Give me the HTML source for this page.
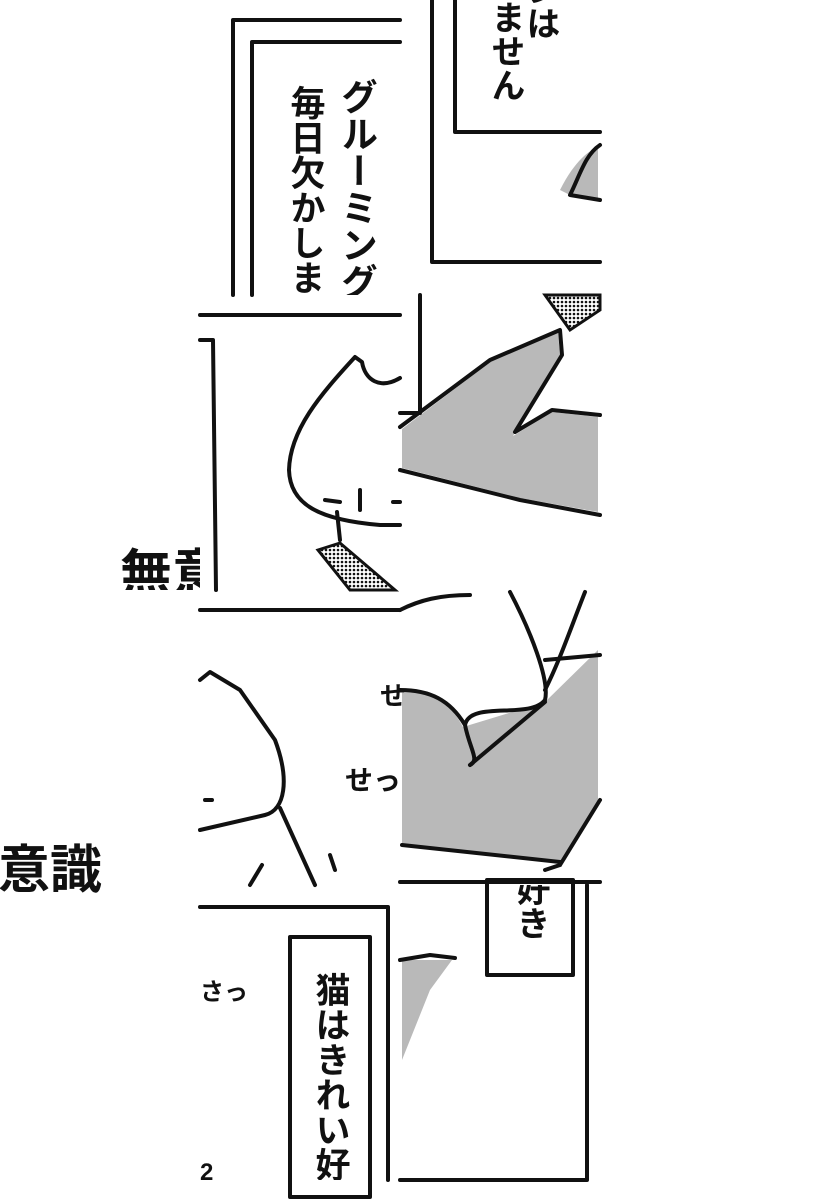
<!DOCTYPE html>
<html><head><meta charset="utf-8"><style>
html,body{margin:0;padding:0;background:#fff}
svg{display:block}
text{font-family:"Liberation Sans","Noto Sans CJK JP",sans-serif;font-weight:bold;fill:#111}
.v{writing-mode:vertical-rl}
</style></head><body>
<svg width="820" height="1200" viewBox="0 0 820 1200" xmlns="http://www.w3.org/2000/svg">
<defs>
<pattern id="dots" width="4" height="4" patternUnits="userSpaceOnUse"><rect width="4" height="4" fill="#fff"/><circle cx="2" cy="2" r="1.3" fill="#111"/></pattern>
<clipPath id="c1"><rect x="200" y="0" width="200" height="295"/></clipPath>
<clipPath id="c2"><rect x="400" y="0" width="200" height="295"/></clipPath>
<clipPath id="c7"><rect x="200" y="885" width="200" height="295"/></clipPath>
<clipPath id="c8"><rect x="400" y="885" width="200" height="295"/></clipPath>
<clipPath id="cm"><rect x="100" y="530" width="100" height="60"/></clipPath>
</defs>
<rect width="820" height="1200" fill="#fff"/>
<g fill="#b9b9b9">
<path d="M402 429 L490 362 L558 333 L560 355 L513 436 L552 412 L598 417 L598 512 L520 498 L402 468 Z"/>
<path d="M560 190 C575 160 590 150 598 147 L598 198 L572 196 Z"/>
<path d="M402 692 C432 692 450 702 463 727 L545 702 L598 650 L598 800 L560 862 L402 845 Z"/>
<path d="M402 960 L452 960 L430 990 L402 1060 Z"/>
</g>
<g fill="none" stroke="#111" stroke-width="4" stroke-linejoin="round" stroke-linecap="round">
<path d="M233 295 V20 H400"/>
<path d="M252 295 V42 H400"/>
<path d="M432 0 V262 H600"/>
<path d="M455 0 V132 H600"/>
<path d="M600 145 C585 155 580 175 570 195 L600 200"/>
<path d="M200 315 H400"/>
<path d="M200 340 H213 L216 590"/>
<path d="M400 378 C380 390 365 380 362 362 L355 357 C320 395 290 430 289 470 C290 505 320 520 380 525 L400 525"/>
<path d="M325 500 L340 502 M360 490 L360 510 M393 502 L400 502"/>
<path d="M337 512 L340 540"/>
<path d="M420 295 V413 H400"/>
<path d="M400 427 L490 360 L560 330 L562 355 L515 432 L552 410 L600 415"/>
<path d="M400 470 L520 500 L600 515"/>
<path d="M200 610 H400"/>
<path d="M200 680 L210 672 L240 690 L275 740 C290 780 285 810 265 815 L200 830"/>
<path d="M280 808 L315 885 M205 800 L212 800"/>
<path d="M250 885 L262 865 M330 855 L335 870"/>
<path d="M400 610 C420 600 440 595 470 595"/>
<path d="M510 592 C530 630 550 680 545 700 C530 720 470 700 465 725 C470 750 480 760 470 765"/>
<path d="M585 592 C570 630 560 660 545 690"/>
<path d="M400 690 C430 690 450 700 465 725"/>
<path d="M600 655 L545 660 M560 865 L600 800 M545 870 L560 865"/>
<path d="M560 862 L402 845 M470 765 L545 702"/>
<path d="M400 882 H600"/>
<path d="M200 907 H388 V1180"/>
<rect x="290" y="937" width="80" height="260"/>
<rect x="487" y="880" width="86" height="95"/>
<path d="M587 885 V1180 H400"/>
<path d="M400 960 L430 955 L455 958"/>
</g>
<g fill="url(#dots)" stroke="#111" stroke-width="3">
<path d="M318 550 L340 543 L395 590 L350 590 Z"/>
<path d="M545 295 L600 295 L600 310 L570 330 Z"/>
</g>
<g clip-path="url(#c1)">
<text x="356" y="78" class="v" font-size="37">グルーミング</text>
<text x="305" y="85" class="v" font-size="35">毎日欠かします</text>
</g>
<g clip-path="url(#c2)" font-size="34">
<text x="540" y="-28" class="v">ンは</text>
<text x="505" y="0" class="v">ません</text>
</g>
<g clip-path="url(#c8)" font-size="34">
<text x="530" y="872" class="v">好き</text>
</g>
<g clip-path="url(#c7)" font-size="35">
<text x="330" y="972" class="v">猫はきれい好</text>
</g>
<g clip-path="url(#cm)"><text x="120" y="592" font-size="52">無意</text></g>
<text x="-2" y="888" font-size="52">意識</text>
<text x="345" y="790" font-size="28" font-weight="normal">せっ</text>
<text x="380" y="705" font-size="26" font-weight="normal">せ</text>
<text x="200" y="1000" font-size="24" font-weight="normal">さっ</text>
<text x="200" y="1180" font-size="24" font-weight="normal">2</text>
</svg>
</body></html>
